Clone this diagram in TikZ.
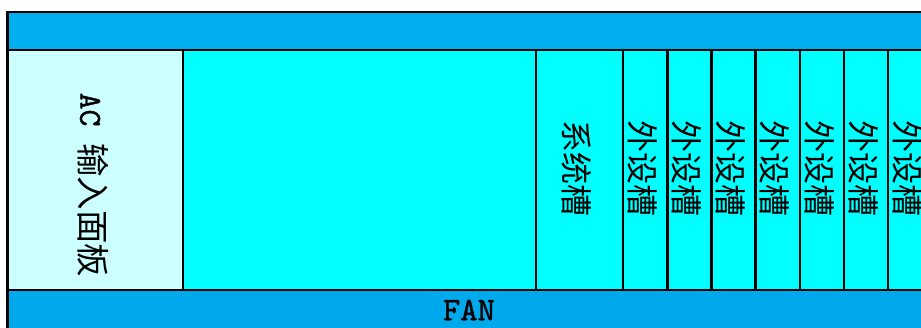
\documentclass[tikz,border=0pt]{standalone}
\usepackage{fontspec}
\newfontfamily\cjk{Noto Sans CJK SC}
\newfontfamily\latinmono[FakeBold=1.2]{lmmono10-regular.otf}
\definecolor{topblue}{RGB}{0,174,239}
\definecolor{botblue}{RGB}{0,168,236}
\definecolor{acfill}{RGB}{204,255,255}
\definecolor{slotfill}{RGB}{0,255,255}
\begin{document}
\begin{tikzpicture}[x=1pt,y=-1pt,
  box/.style={draw=black,line width=2.8pt},
  vlbl/.style={font=\cjk\fontsize{32}{32}\selectfont, rotate=-90, inner sep=0pt},
  hlbl/.style={font=\latinmono\fontsize{33}{33}\selectfont, inner sep=0pt}]
\useasboundingbox (0,0) rectangle (921,327);
\fill[white] (0,0) rectangle (921,327);
\begin{scope}
\clip (0,0) rectangle (921,327);
\draw[box, fill=topblue] (7.5,12) rectangle (940,50);
\draw[box, fill=botblue] (7.5,290) rectangle (940,345);
\draw[box, fill=acfill] (7.5,50) rectangle (183,290);
\draw[box, fill=slotfill] (183,50) rectangle (536,290);
\draw[box, fill=slotfill] (536,50) rectangle (623,290);
\foreach \a/\b in {623/667.5, 667.5/711.5, 711.5/755.5, 755.5/800, 800/844, 844/888, 888/932}{
  \draw[box, fill=slotfill] (\a,50) rectangle (\b,290);
}
\node[vlbl, font=\cjk\fontsize{33.5}{33.5}\selectfont] (ac) at (93,185) {{\latinmono\fontsize{32}{32}\selectfont AC }输入面板};
\node[vlbl] (sys) at (577,168) {系统槽};
\foreach \x [count=\i] in {643,687,731,775,820,864,908}{
  \node[vlbl] (p\i) at (\x,168) {外设槽};
}
\node[hlbl] (fan) at (469,310) {FAN};
\end{scope}
\end{tikzpicture}
\end{document}
